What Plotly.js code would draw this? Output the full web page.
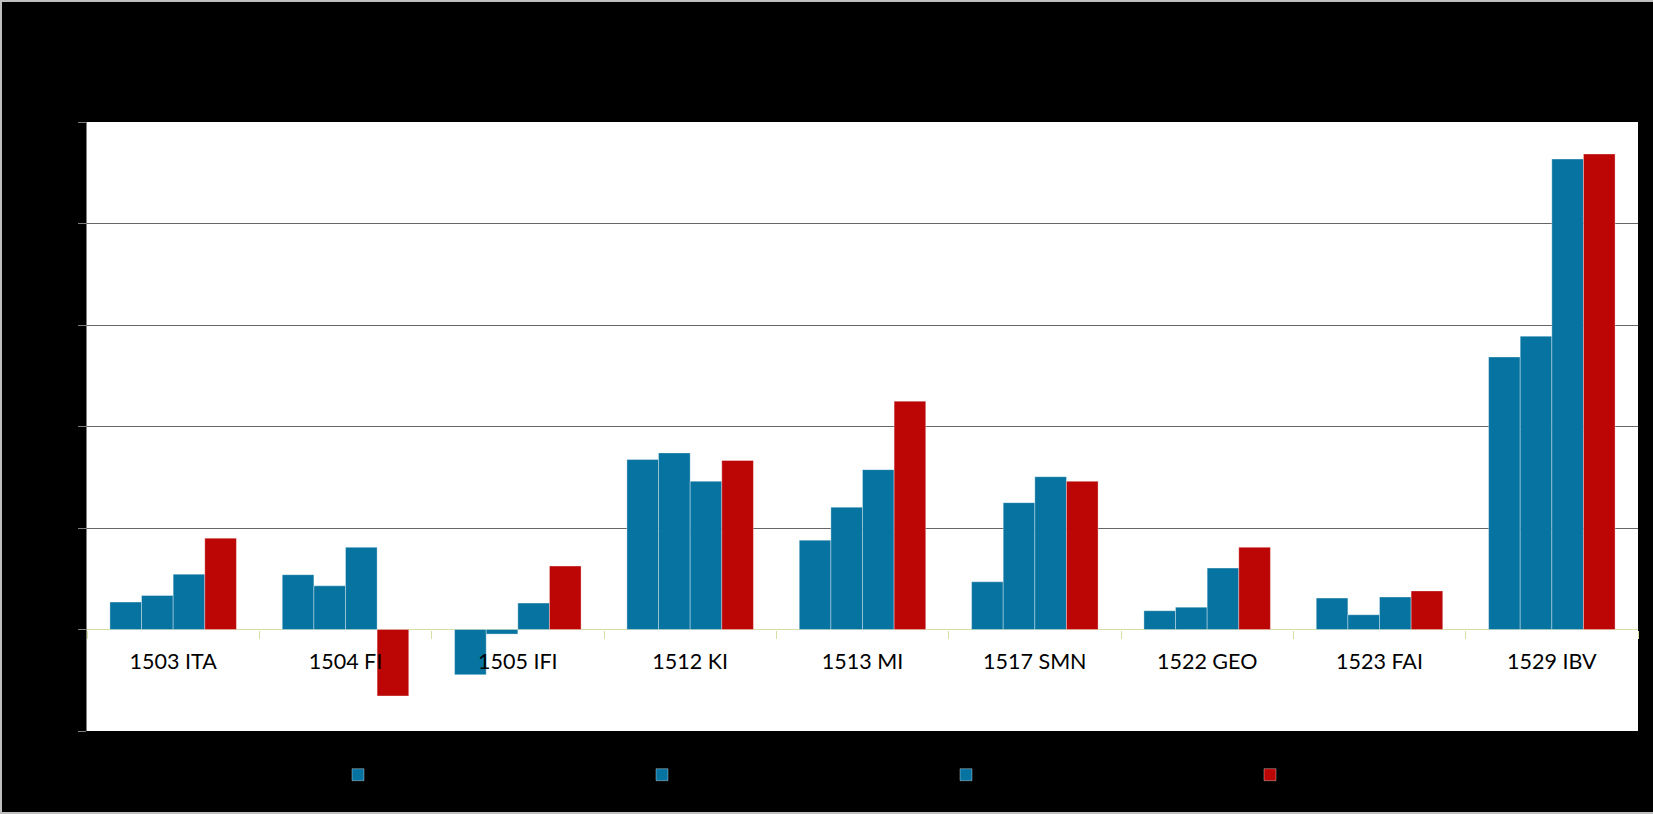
<!DOCTYPE html>
<html>
<head>
<meta charset="utf-8">
<script src="https://cdn.plot.ly/plotly-3.0.1.min.js"></script>
<style>
  html, body { margin: 0; padding: 0; background: #bfbfbf; width: 1653px; height: 814px; overflow: hidden; }
  #chart { position: absolute; left: 2px; top: 2px; width: 1651px; height: 810px; }
</style>
</head>
<body>
<div id="chart"></div>
<script>
const categories = ["1503 ITA", "1504 FI", "1505 IFI", "1512 KI", "1513 MI", "1517 SMN", "1522 GEO", "1523 FAI", "1529 IBV"];
const seriesNames = ["2011", "2012", "2013", "2014"];
const series1 = [5.4, 10.8, -8.9, 33.5, 17.6, 9.4, 3.7, 6.2, 53.7];
const series2 = [6.7, 8.6, -0.9, 34.8, 24.1, 25.0, 4.4, 2.9, 57.8];
const series3 = [10.9, 16.2, 5.2, 29.2, 31.5, 30.1, 12.1, 6.4, 92.7];
const series4 = [18.0, -13.1, 12.5, 33.3, 45.0, 29.2, 16.2, 7.6, 93.7];
const yTickVals = [-20, 0, 20, 40, 60, 80, 100];

const BLUE = "#0773A0";
const RED = "#BC0505";
const colors = [BLUE, BLUE, BLUE, RED];
const allSeries = [series1, series2, series3, series4];

const traces = allSeries.map((vals, i) => ({
  type: "bar",
  name: seriesNames[i],
  x: categories,
  y: vals,
  marker: { color: colors[i], line: { color: "rgba(255,255,255,0.35)", width: 1 } },
  hoverinfo: "skip"
}));

const layout = {
  width: 1651,
  height: 810,
  paper_bgcolor: "#000000",
  plot_bgcolor: "#ffffff",
  margin: { l: 85, r: 15, t: 120, b: 81 },
  barmode: "group",
  bargap: 0.266,
  bargroupgap: 0,
  font: { family: "Lato, 'Liberation Sans', sans-serif", color: "#000000" },
  xaxis: {
    type: "category",
    anchor: "free",
    position: 20 / 120,
    showline: false,
    showgrid: false,
    ticks: "outside",
    tickson: "boundaries",
    ticklen: 8,
    tickcolor: "#d6dea6",
    tickwidth: 1,
    ticklabelstandoff: 17,
    tickfont: { size: 21.5, color: "#000000", family: "Lato, 'Liberation Sans', sans-serif" },
    fixedrange: true
  },
  yaxis: {
    range: [-20, 100],
    tickvals: yTickVals,
    showline: true,
    linecolor: "#808080",
    linewidth: 1,
    ticks: "outside",
    ticklen: 8,
    tickcolor: "#808080",
    showgrid: true,
    gridcolor: "#666666",
    gridwidth: 1,
    zeroline: true,
    zerolinecolor: "#d6dea6",
    zerolinewidth: 1.5,
    tickfont: { size: 18, color: "#000000" },
    fixedrange: true
  },
  showlegend: true,
  legend: {
    orientation: "h",
    xref: "container",
    yref: "container",
    x: 336 / 1651,
    y: 37 / 810,
    xanchor: "left",
    yanchor: "middle",
    entrywidth: 259,
    entrywidthmode: "pixels",
    bgcolor: "rgba(0,0,0,0)",
    font: { size: 18, color: "#000000" },
    traceorder: "normal"
  }
};

Plotly.newPlot("chart", traces, layout, { staticPlot: true, displayModeBar: false });
</script>
</body>
</html>
